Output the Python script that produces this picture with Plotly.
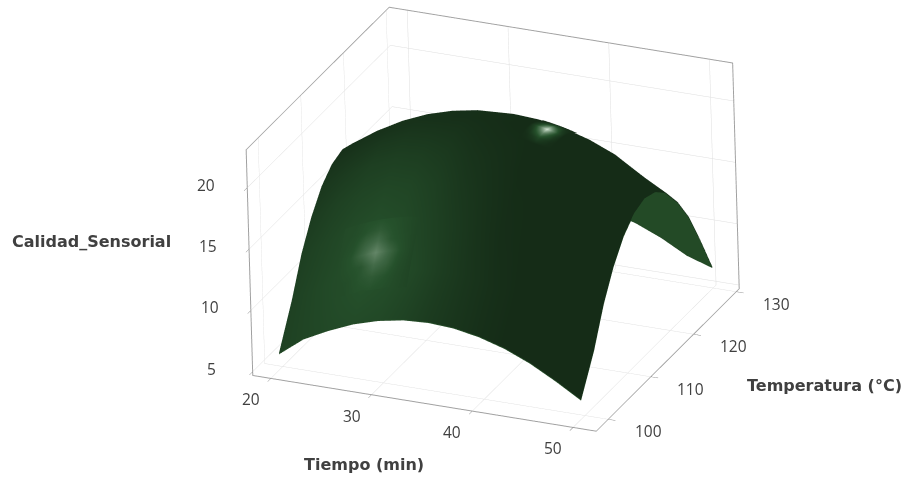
import plotly.graph_objects as go

tiempo = [20, 22.5, 25, 27.5, 30, 32.5, 35, 37.5, 40, 42.5, 45, 47.5, 50]
temperatura = [99.2, 102.5, 105, 107.5, 110, 112.5, 115, 117.5, 120, 122.5, 125, 127.5, 130]
# rows follow temperatura, columns follow tiempo
calidad = [
    [6.05, 7.6, 8.62, 9.49, 10.1, 10.48, 10.6, 10.48, 10.1, 9.49, 8.62, 7.51, 6.27],
    [9.25, 10.5, 11.58, 12.45, 13.06, 13.44, 13.56, 13.44, 13.06, 12.45, 11.58, 10.4, 9.2],
    [12.15, 13.45, 14.52, 15.39, 16.0, 16.38, 16.5, 16.38, 16.0, 15.39, 14.52, 13.3, 12.1],
    [14.3, 15.7, 16.78, 17.65, 18.26, 18.64, 18.76, 18.64, 18.26, 17.65, 16.78, 15.5, 14.3],
    [15.9, 17.25, 18.37, 19.24, 19.85, 20.23, 20.35, 20.23, 19.85, 19.24, 18.37, 17.05, 15.9],
    [16.85, 18.2, 19.33, 20.2, 20.81, 21.19, 21.31, 21.19, 20.81, 20.2, 19.33, 18.0, 16.85],
    [17.2, 18.55, 19.67, 20.54, 21.15, 21.53, 21.65, 21.53, 21.15, 20.54, 19.67, 18.35, 17.2],
    [16.85, 18.2, 19.33, 20.2, 20.81, 21.19, 21.31, 21.19, 20.81, 20.2, 19.33, 18.0, 16.85],
    [15.9, 17.25, 18.37, 19.24, 19.85, 20.23, 20.35, 20.23, 19.85, 19.24, 18.37, 17.05, 15.9],
    [14.3, 15.7, 16.78, 17.65, 18.26, 18.64, 18.76, 18.64, 18.26, 17.65, 16.78, 15.5, 14.3],
    [12.15, 13.45, 14.52, 15.39, 16.0, 16.38, 16.5, 16.38, 16.0, 15.39, 14.52, 13.3, 12.2],
    [9.2, 10.6, 11.68, 12.55, 13.16, 13.54, 13.66, 13.54, 13.16, 12.55, 11.68, 10.5, 9.4],
    [5.5, 7.0, 8.17, 9.04, 9.65, 10.03, 10.15, 10.03, 9.65, 9.04, 8.17, 7.06, 6.4],
]
# shading of the upper face, 0 = darkest green, 1 = lighter green
sombra = [
    [.55, .65, .75, .8, .75, .6, .4, .25, .1, 0, 0, 0, 0],
    [.55, .7, .85, 1, .9, .7, .45, .25, .1, 0, 0, 0, 0],
    [.5, .65, .8, .9, .8, .6, .4, .2, .05, 0, 0, 0, 0],
    [.4, .55, .65, .7, .65, .5, .3, .15, .03, 0, 0, 0, 0],
    [.3, .4, .5, .5, .45, .35, .2, .1, 0, 0, 0, 0, 0],
    [.2, .25, .3, .3, .25, .2, .1, .05, 0, 0, 0, 0, 0],
    [.1, .15, .15, .15, .1, .08, .05, 0, 0, 0, 0, 0, 0],
    [.1, .15, .15, .15, .1, .08, .05, 0, 0, 0, 0, 0, 0],
    [.1, .15, .15, .15, .1, .08, .05, 0, 0, 0, 0, 0, 0],
    [.1, .15, .15, .15, .1, .08, .05, 0, 0, 0, 0, 0, 0],
    [.1, .15, .15, .15, .1, .08, .05, 0, 0, 0, 0, 0, 0],
    [.1, .15, .15, .15, .1, .08, .05, 0, 0, 0, 0, 0, 0],
    [.1, .15, .15, .15, .1, .08, .05, 0, 0, 0, 0, 0, 0],
]

# highlight patches lying just above the surface
brillo1 = [
    [.2, .21, .24, .25, .23, .2, .165],
    [.2, .215, .26, .29, .26, .205, .165],
    [.2, .24, .27, .375, .32, .22, .165],
    [.2, .25, .365, .5, .355, .24, .165],
    [.2, .23, .32, .375, .27, .22, .165],
    [.2, .215, .26, .29, .25, .205, .165],
    [.2, .21, .24, .25, .23, .2, .165],
]
brillo1_tiempo = [24.5, 25.75, 27, 28.25, 29.5, 30.75, 32]
brillo1_temp = [101.3, 101.9, 102.5, 103.1, 103.7, 104.3, 104.9]
brillo1_z = [
    [10.28, 10.77, 11.19, 11.56, 11.86, 12.10, 12.28],
    [11.13, 11.62, 12.04, 12.41, 12.71, 12.95, 13.13],
    [11.95, 12.44, 12.86, 13.23, 13.53, 13.77, 13.95],
    [12.73, 13.22, 13.64, 14.01, 14.31, 14.55, 14.73],
    [13.47, 13.96, 14.38, 14.75, 15.05, 15.29, 15.47],
    [14.17, 14.66, 15.08, 15.45, 15.75, 15.99, 16.17],
    [14.83, 15.32, 15.74, 16.11, 16.41, 16.65, 16.83],
]
brillo2 = [
    [0, 0, 0, 0, 0, 0, 0],
    [0, .03, .1, .18, .1, .03, 0],
    [0, .1, .3, .5, .3, .1, 0],
    [0, .18, .5, .95, .5, .18, 0],
    [0, .1, .3, .5, .3, .1, 0],
    [0, .03, .1, .18, .1, .03, 0],
    [0, 0, 0, 0, 0, 0, 0],
]
brillo2_tiempo = [38.4, 38.95, 39.5, 40.05, 40.6, 41.15, 41.7]
brillo2_temp = [113, 114, 115, 116, 117, 118, 119]
brillo2_z = [
    [21.24, 21.17, 21.09, 21.00, 20.90, 20.78, 20.65],
    [21.40, 21.33, 21.25, 21.16, 21.06, 20.94, 20.81],
    [21.45, 21.38, 21.30, 21.21, 21.11, 20.99, 20.86],
    [21.40, 21.33, 21.25, 21.16, 21.06, 20.94, 20.81],
    [21.24, 21.17, 21.09, 21.00, 20.90, 20.78, 20.65],
    [20.98, 20.91, 20.83, 20.74, 20.64, 20.52, 20.39],
    [20.62, 20.55, 20.47, 20.38, 20.28, 20.16, 20.03],
]

tiempo_ticks = [20, 30, 40, 50]
temp_ticks = [100, 110, 120, 130]
calidad_ticks = [5, 10, 15, 20]
tiempo_rango = [18.2, 52.3]
temp_rango = [97.2, 130.7]
calidad_rango = [4.7, 23.1]

axis_common = dict(
    showbackground=False, showgrid=True, gridcolor="#dedede", gridwidth=1,
    showline=True, linecolor="#a0a0a0", linewidth=2, mirror=True,
    ticks="outside", ticklen=8, tickcolor="#808080", tickwidth=1,
    showticklabels=False, zeroline=False, showspikes=False, title=dict(text=""),
)
flat = dict(ambient=1, diffuse=0, specular=0, fresnel=0, roughness=1)
patch_scale = [[0, "#152c17"], [0.25, "#26522c"], [1, "#e0f0e0"]]

fig = go.Figure()
# underside seen behind the ridge
fig.add_trace(go.Surface(
    x=tiempo, y=temperatura, z=[[v - 0.08 for v in row] for row in calidad],
    colorscale=[[0, "#234a26"], [1, "#234a26"]], showscale=False,
    lighting=flat, hoverinfo="skip",
))
fig.add_trace(go.Surface(
    x=tiempo, y=temperatura, z=calidad, surfacecolor=sombra, cmin=0, cmax=1,
    colorscale=[[0, "#152c17"], [1, "#26522c"]], showscale=False,
    lighting=flat, hoverinfo="skip",
))
fig.add_trace(go.Surface(
    x=brillo1_tiempo, y=brillo1_temp, z=brillo1_z, surfacecolor=brillo1, cmin=0, cmax=1,
    colorscale=patch_scale, showscale=False, lighting=flat, hoverinfo="skip",
))
fig.add_trace(go.Surface(
    x=brillo2_tiempo, y=brillo2_temp, z=brillo2_z, surfacecolor=brillo2, cmin=0, cmax=1,
    colorscale=patch_scale, showscale=False, lighting=flat, hoverinfo="skip",
))

title_font = dict(family="DejaVu Sans", size=16, color="#404040")
tick_font = dict(family="Open Sans", size=15.5, color="#404040")
labels = [("Calidad_Sensorial", 91, 242), ("Tiempo (min)", 364, 464), ("Temperatura (°C)", 824, 385)]

tick_notes = (
    [dict(x=v, y=temp_rango[0], z=calidad_rango[0], text=str(v), xshift=-20, yshift=-21) for v in tiempo_ticks]
    + [dict(x=tiempo_rango[1], y=v, z=calidad_rango[0], text=str(v), xshift=40, yshift=-12) for v in temp_ticks]
    + [dict(x=tiempo_rango[0], y=temp_rango[0], z=v, text=str(v), xshift=-41, yshift=3) for v in calidad_ticks]
)
for note in tick_notes:
    note.update(showarrow=False, font=tick_font)

fig.update_layout(
    width=907, height=479, margin=dict(l=0, r=0, t=0, b=0),
    paper_bgcolor="white", showlegend=False,
    scene=dict(
        dragmode="orbit",
        xaxis=dict(range=tiempo_rango, tickvals=tiempo_ticks, **axis_common),
        yaxis=dict(range=temp_rango, tickvals=temp_ticks, **axis_common),
        zaxis=dict(range=calidad_rango, tickvals=calidad_ticks, **axis_common),
        aspectmode="manual", aspectratio=dict(x=1.566, y=1.49, z=1.042),
        camera=dict(
            projection=dict(type="orthographic"),
            center=dict(x=-0.137, y=-0.100, z=-0.072),
            eye=dict(x=0.609, y=-1.749, z=0.778),
            up=dict(x=0.024, y=0.011, z=1),
        ),
        annotations=tick_notes,
    ),
    annotations=[
        dict(text="<b>%s</b>" % t, x=px / 907, y=1 - py / 479, xref="paper", yref="paper",
             showarrow=False, font=title_font, xanchor="center", yanchor="middle")
        for t, px, py in labels
    ],
)
fig.write_html("out.html", config={"displayModeBar": False},
               post_script="document.body.style.margin='0';")
